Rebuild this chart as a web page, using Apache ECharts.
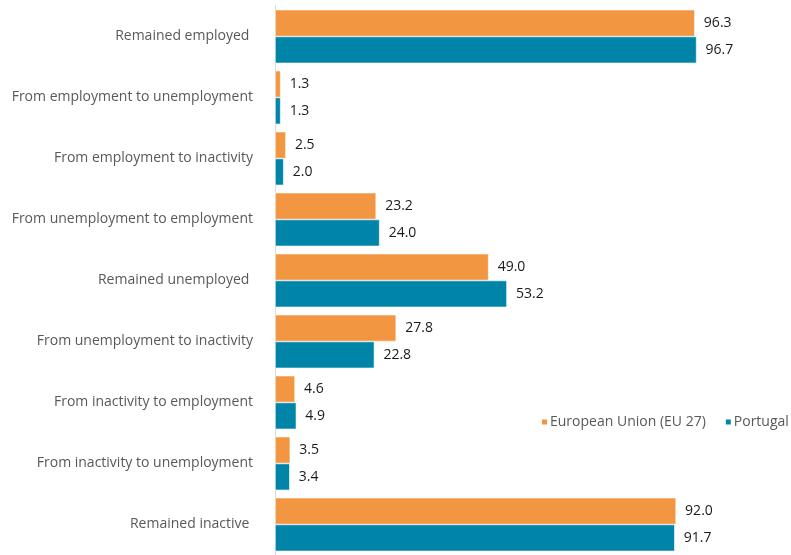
<!DOCTYPE html>
<html>
<head>
<meta charset="utf-8">
<script src="https://cdn.jsdelivr.net/npm/echarts@6/dist/echarts.min.js"></script>
<style>
  html, body { margin: 0; padding: 0; background: #ffffff; }
  #chart { width: 791px; height: 555px; }
</style>
</head>
<body>
<div id="chart"></div>
<script>
// Labour market transitions, % of each starting status
const categories = [
  'Remained employed ',
  'From employment to unemployment',
  'From employment to inactivity',
  'From unemployment to employment',
  'Remained unemployed ',
  'From unemployment to inactivity',
  'From inactivity to employment',
  'From inactivity to unemployment',
  'Remained inactive '
];
const euValues = [96.3, 1.3, 2.5, 23.2, 49.0, 27.8, 4.6, 3.5, 92.0];
const ptValues = [96.7, 1.3, 2.0, 24.0, 53.2, 22.8, 4.9, 3.4, 91.7];
const seriesNames = ['European Union (EU 27)', 'Portugal'];

const FONT = '"Open Sans", "Noto Sans", sans-serif';
const chart = echarts.init(document.getElementById('chart'));

const valueLabel = {
  show: true,
  position: 'right',
  distance: 9,
  color: '#1a1a1a',
  fontFamily: FONT,
  fontSize: 14,
  formatter: p => p.value.toFixed(1)
};

chart.setOption({
  animation: false,
  grid: { left: 275, top: 6, width: 436, height: 552, containLabel: false },
  legend: {
    left: 540,
    top: 415,
    width: 260,
    padding: 0,
    orient: 'horizontal',
    itemWidth: 7,
    itemHeight: 7,
    itemGap: 18,
    icon: 'rect',
    textStyle: { color: '#595959', fontFamily: FONT, fontSize: 14, padding: [0, 0, 0, -3] },
    data: seriesNames
  },
  xAxis: {
    type: 'value',
    min: 0,
    max: 100,
    show: false
  },
  yAxis: {
    type: 'category',
    inverse: true,
    data: categories,
    axisLine: { show: true, lineStyle: { color: '#d9d9d9', width: 1 } },
    axisTick: { show: false },
    axisLabel: { color: '#595959', fontFamily: FONT, fontSize: 14, margin: 22 }
  },
  series: [
    {
      name: seriesNames[0],
      type: 'bar',
      data: euValues,
      barGap: '0%',
      barCategoryGap: '12%',
      itemStyle: { color: '#F39642', borderColor: '#ffffff', borderWidth: 0.6 },
      label: valueLabel
    },
    {
      name: seriesNames[1],
      type: 'bar',
      data: ptValues,
      barGap: '0%',
      barCategoryGap: '12%',
      itemStyle: { color: '#0085A8', borderColor: '#ffffff', borderWidth: 0.6 },
      label: valueLabel
    }
  ]
});
</script>
</body>
</html>
